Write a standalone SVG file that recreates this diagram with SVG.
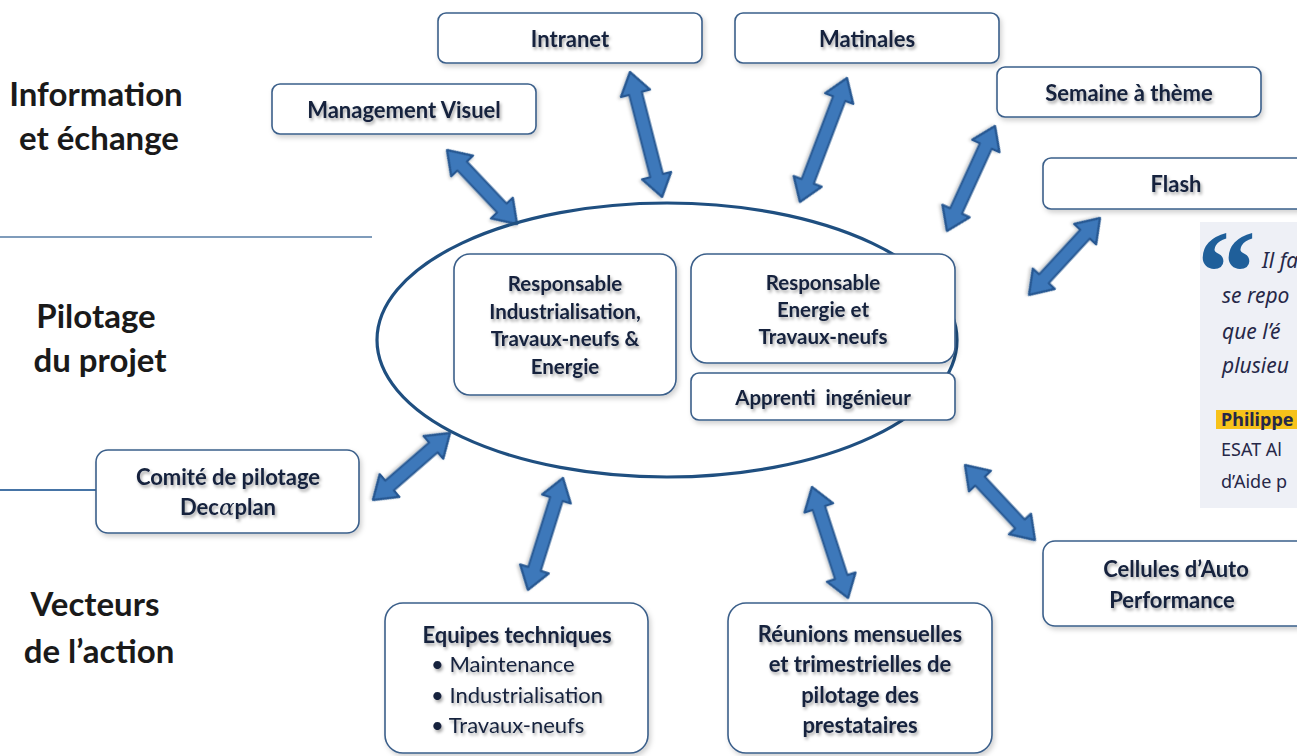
<svg xmlns="http://www.w3.org/2000/svg" width="1297" height="756" viewBox="0 0 1297 756">
<defs>
<filter id="bsh" x="-10%" y="-20%" width="130%" height="150%"><feDropShadow dx="2" dy="3" stdDeviation="2.5" flood-color="#000" flood-opacity="0.18"/></filter>
<filter id="tsh" x="-10%" y="-30%" width="130%" height="170%"><feDropShadow dx="1.5" dy="2.5" stdDeviation="1.5" flood-color="#000" flood-opacity="0.35"/></filter>
<filter id="ash" x="-20%" y="-20%" width="150%" height="150%"><feDropShadow dx="1" dy="2" stdDeviation="1.5" flood-color="#000" flood-opacity="0.2"/></filter>
</defs>
<style>
.box{fill:#fff;stroke:#3b5f8a;stroke-width:1.6;filter:url(#bsh)}
.t{font-family:Lato,"Open Sans",sans-serif;font-weight:700;fill:#14213d;text-anchor:middle;filter:url(#tsh)}
.n{font-size:22px}
.s{font-size:20.5px}
.st{text-anchor:start;font-weight:400}
.lab{font-family:Lato,"Open Sans",sans-serif;font-weight:700;font-size:33px;fill:#1a1a1a;text-anchor:middle}
.arr{fill:#3d78ba;stroke:#255791;stroke-width:2.2;stroke-linejoin:round;filter:url(#ash)}
.q{font-family:"Noto Sans","Open Sans",sans-serif;font-style:italic;font-size:21px;fill:#262848}
.qs{font-family:"Noto Sans","Open Sans",sans-serif;font-size:18px;fill:#262848}
</style>
<rect width="1297" height="756" fill="#fff"/>

<g id="section-lines">
<line x1="0" y1="237" x2="372" y2="237" stroke="#7f9cbb" stroke-width="2"/>
<line x1="0" y1="490" x2="97" y2="490" stroke="#4674a6" stroke-width="2.2"/>
</g>

<g id="labels">
<text class="lab" x="96" y="106">Information</text>
<text class="lab" x="99" y="150">et échange</text>
<text class="lab" x="96" y="328">Pilotage</text>
<text class="lab" x="100" y="372">du projet</text>
<text class="lab" x="95" y="616">Vecteurs</text>
<text class="lab" x="99" y="663">de l’action</text>
</g>

<g id="quote">
<rect x="1200" y="222" width="110" height="286" fill="#eef0f6"/>
<text x="1197" y="312" font-family="'Liberation Serif',serif" font-weight="700" font-size="118" fill="#1f5f9a">“</text>
<text class="q" x="1262" y="268">Il fa</text>
<text class="q" x="1222" y="303">se repo</text>
<text class="q" x="1222" y="339">que l’é</text>
<text class="q" x="1222" y="373">plusieu</text>
<rect x="1216" y="410" width="90" height="19" fill="#f7c21a"/>
<text class="qs" x="1221" y="426" font-weight="700">Philippe</text>
<text class="qs" x="1221" y="456">ESAT Al</text>
<text class="qs" x="1221" y="488">d’Aide p</text>
</g>

<g id="connectors">
<path class="arr" transform="translate(447,150) rotate(46.6)" d="M0,0 L22,-15 L22,-6.5 L79.9,-6.5 L79.9,-15 L101.9,0 L79.9,15 L79.9,6.5 L22,6.5 L22,15 Z"/>
<path class="arr" transform="translate(630,72) rotate(75.6)" d="M0,0 L22,-15 L22,-6.5 L107,-6.5 L107,-15 L129,0 L107,15 L107,6.5 L22,6.5 L22,15 Z"/>
<path class="arr" transform="translate(847,78) rotate(110.8)" d="M0,0 L22,-15 L22,-6.5 L110.6,-6.5 L110.6,-15 L132.6,0 L110.6,15 L110.6,6.5 L22,6.5 L22,15 Z"/>
<path class="arr" transform="translate(995,126) rotate(114.6)" d="M0,0 L22,-15 L22,-6.5 L93.5,-6.5 L93.5,-15 L115.5,0 L93.5,15 L93.5,6.5 L22,6.5 L22,15 Z"/>
<path class="arr" transform="translate(1100,218) rotate(132.7)" d="M0,0 L22,-15 L22,-6.5 L82.7,-6.5 L82.7,-15 L104.7,0 L82.7,15 L82.7,6.5 L22,6.5 L22,15 Z"/>
<path class="arr" transform="translate(450,433) rotate(139)" d="M0,0 L22,-15 L22,-6.5 L80.1,-6.5 L80.1,-15 L102.1,0 L80.1,15 L80.1,6.5 L22,6.5 L22,15 Z"/>
<path class="arr" transform="translate(563,478) rotate(107.4)" d="M0,0 L22,-15 L22,-6.5 L95.3,-6.5 L95.3,-15 L117.3,0 L95.3,15 L95.3,6.5 L22,6.5 L22,15 Z"/>
<path class="arr" transform="translate(812,487) rotate(72)" d="M0,0 L22,-15 L22,-6.5 L94.7,-6.5 L94.7,-15 L116.7,0 L94.7,15 L94.7,6.5 L22,6.5 L22,15 Z"/>
<path class="arr" transform="translate(965,465) rotate(47)" d="M0,0 L22,-15 L22,-6.5 L80.6,-6.5 L80.6,-15 L102.6,0 L80.6,15 L80.6,6.5 L22,6.5 L22,15 Z"/>
</g>

<g id="pilotage-core">
<ellipse cx="667" cy="340" rx="290" ry="137" fill="none" stroke="#1f4f80" stroke-width="3.2"/>
</g>

<g id="node-resp-indus">
<rect class="box" x="454" y="254" width="222" height="141" rx="16"/>
<text class="t s" x="565" y="291">Responsable</text>
<text class="t s" x="565" y="319">Industrialisation,</text>
<text class="t s" x="565" y="346">Travaux-neufs &amp;</text>
<text class="t s" x="565" y="374">Energie</text>
</g>
<g id="node-resp-energie">
<rect class="box" x="691" y="254" width="264" height="109" rx="16"/>
<text class="t s" x="823" y="290">Responsable</text>
<text class="t s" x="823" y="317">Energie et</text>
<text class="t s" x="823" y="344">Travaux-neufs</text>
</g>
<g id="node-apprenti">
<rect class="box" x="691" y="373" width="264" height="47" rx="8"/>
<text class="t s" x="823" y="405" xml:space="preserve">Apprenti  ingénieur</text>
</g>

<g id="node-intranet">
<rect class="box" x="438" y="13" width="264" height="50" rx="8"/>
<text class="t n" x="570" y="47">Intranet</text>
</g>
<g id="node-matinales">
<rect class="box" x="735" y="13" width="264" height="50" rx="8"/>
<text class="t n" x="867" y="47">Matinales</text>
</g>
<g id="node-management">
<rect class="box" x="272" y="84" width="264" height="50" rx="8"/>
<text class="t n" x="404" y="118">Management Visuel</text>
</g>
<g id="node-semaine">
<rect class="box" x="997" y="67" width="264" height="50" rx="8"/>
<text class="t n" x="1129" y="101">Semaine à thème</text>
</g>
<g id="node-flash">
<rect class="box" x="1043" y="158" width="270" height="51" rx="8"/>
<text class="t n" x="1176" y="192">Flash</text>
</g>
<g id="node-comite">
<rect class="box" x="96" y="450" width="263" height="83" rx="12"/>
<text class="t n" x="228" y="485">Comité de pilotage</text>
<text class="t n" x="228" y="515">Dec<tspan font-family="'DejaVu Serif',serif" font-style="italic" font-weight="400" font-size="23">α</tspan>plan</text>
</g>
<g id="node-cellules">
<rect class="box" x="1043" y="541" width="270" height="85" rx="12"/>
<text class="t n" x="1176" y="577">Cellules d’Auto</text>
<text class="t n" x="1172" y="608">Performance</text>
</g>
<g id="node-equipes">
<rect class="box" x="385" y="603" width="263" height="150" rx="18"/>
<text class="t n" x="517" y="643">Equipes techniques</text>
<text class="t n st" x="431" y="672">• Maintenance</text>
<text class="t n st" x="431" y="703">• Industrialisation</text>
<text class="t n st" x="431" y="733">• Travaux-neufs</text>
</g>
<g id="node-reunions">
<rect class="box" x="728" y="603" width="264" height="150" rx="18"/>
<text class="t n" x="860" y="642">Réunions mensuelles</text>
<text class="t n" x="860" y="672">et trimestrielles de</text>
<text class="t n" x="860" y="703">pilotage des</text>
<text class="t n" x="860" y="733">prestataires</text>
</g>
</svg>
